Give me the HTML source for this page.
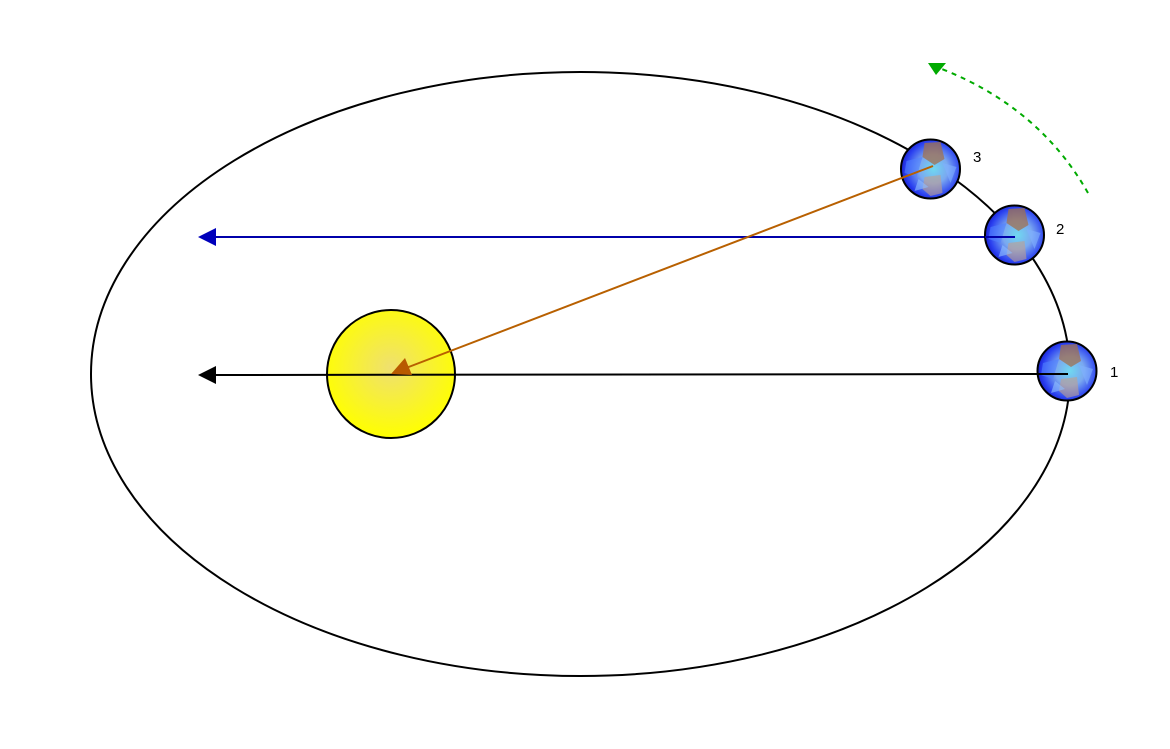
<!DOCTYPE html>
<html><head><meta charset="utf-8"><style>html,body{margin:0;padding:0;background:#fff}svg{display:block}</style></head>
<body>
<svg width="1170" height="749" viewBox="0 0 1170 749" xmlns="http://www.w3.org/2000/svg">
<defs>
<radialGradient id="sun" cx="0.5" cy="0.45" r="0.55">
<stop offset="0" stop-color="#efe070"/><stop offset="1" stop-color="#ffff00"/>
</radialGradient>
<radialGradient id="earth" cx="0.55" cy="0.5" r="0.55">
<stop offset="0" stop-color="#70d8f0"/><stop offset="0.45" stop-color="#7aa8f0"/><stop offset="0.85" stop-color="#2a40f0"/><stop offset="1" stop-color="#1a20d0"/>
</radialGradient>
<g id="e">
<circle r="29.5" fill="url(#earth)" stroke="#000" stroke-width="2"/>
<path d="M-6,-26 L10,-27 L14,-10 L4,-4 L-8,-12Z" fill="#a07050" opacity="0.75"/>
<path d="M-6,8 L10,6 L12,24 L0,27 L-8,20Z" fill="#c0a090" opacity="0.6"/>
<path d="M-24,-8 L-8,-12 L-14,8 L-26,4Z" fill="#5080ff" opacity="0.6"/>
<path d="M12,-6 L26,-2 L20,14Z" fill="#80b0ff" opacity="0.6"/>
<path d="M-12,10 L-2,18 L-16,22Z" fill="#90c0ff" opacity="0.6"/>
</g>
</defs>
<ellipse cx="580.5" cy="374" rx="489.5" ry="302" fill="none" stroke="#000" stroke-width="2"/>
<circle cx="391" cy="374" r="64" fill="url(#sun)" stroke="#000" stroke-width="2"/>
<line x1="214" y1="375" x2="1068" y2="374" stroke="#000" stroke-width="2"/>
<polygon points="198,375 216,366 216,384" fill="#000"/>
<line x1="214" y1="237" x2="1015" y2="237" stroke="#0000aa" stroke-width="2"/>
<polygon points="198,237 216,228 216,246" fill="#0000bb"/>
<use href="#e" x="930.5" y="169"/>
<use href="#e" x="1014.5" y="235"/>
<use href="#e" x="1067" y="371"/>
<line x1="1015" y1="237" x2="985" y2="237" stroke="#0000aa" stroke-width="2"/>
<line x1="1068" y1="374" x2="1038" y2="374" stroke="#000" stroke-width="2"/>
<line x1="933" y1="166" x2="406" y2="368" stroke="#b86000" stroke-width="2"/>
<polygon points="391,374 405,358 412,375" fill="#b85a00"/>
<path d="M1088,193 Q1040,108 942,69" fill="none" stroke="#00aa00" stroke-width="2" stroke-dasharray="5,5"/>
<polygon points="928,63 946,63 936,75" fill="#00aa00"/>
<g font-family="Liberation Sans, sans-serif" font-size="15" fill="#000">
<text x="973" y="162">3</text>
<text x="1056" y="234">2</text>
<text x="1110" y="377">1</text>
</g>
</svg>
</body></html>
